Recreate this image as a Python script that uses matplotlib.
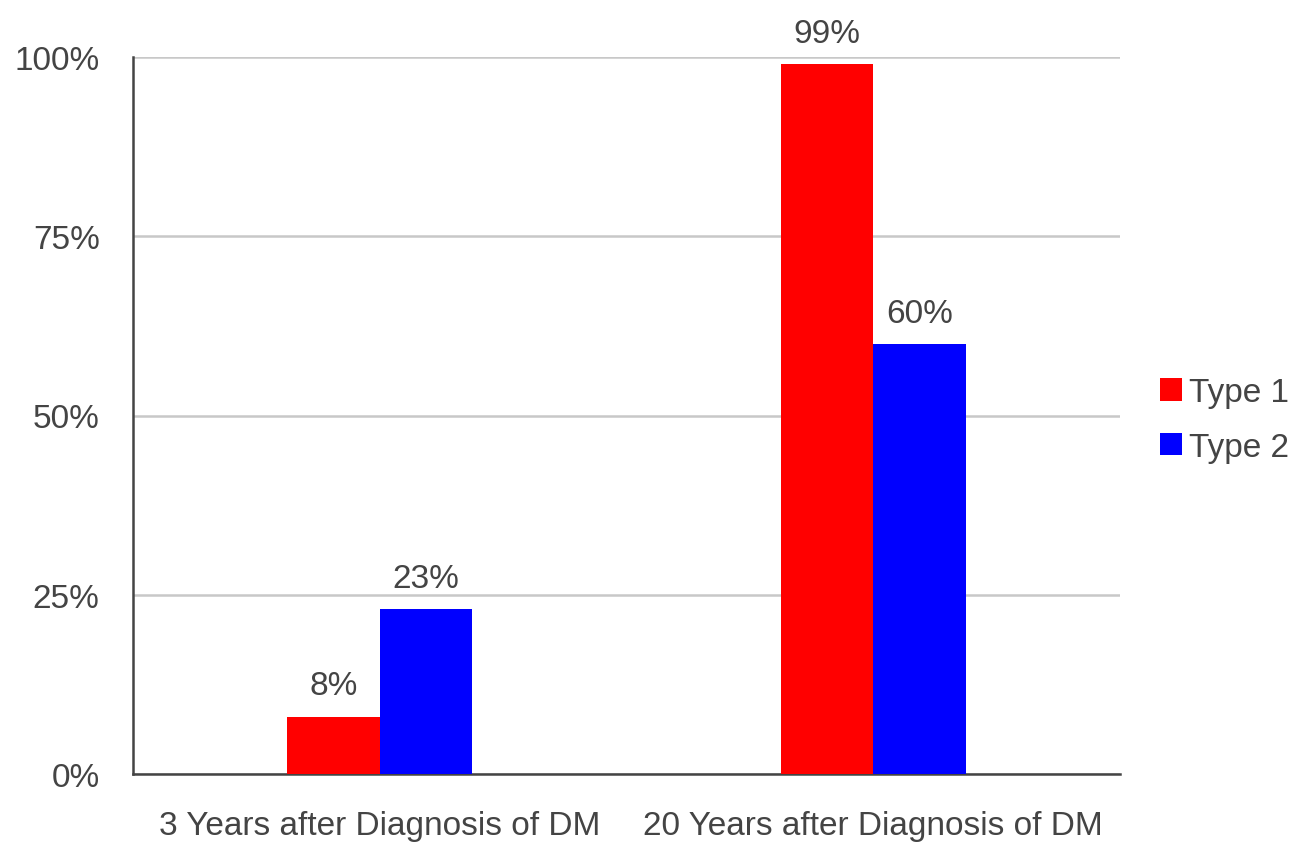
import numpy as np
import matplotlib.pyplot as plt

plt.rcParams['font.family'] = ['Liberation Sans', 'DejaVu Sans']

categories = ["3 Years after Diagnosis of DM", "20 Years after Diagnosis of DM"]
series = ["Type 1", "Type 2"]
type1 = [8, 99]
type2 = [23, 60]
colors = ["#ff0000", "#0000ff"]
yticks = [0, 25, 50, 75, 100]

text_col = "#444444"
fs = 24

fig = plt.figure(figsize=(12.99, 8.53), dpi=100)
ax = fig.add_axes([133 / 1299, 1 - 775 / 853, 987 / 1299, 717 / 853])

x = np.arange(len(categories))
w = 0.1875
for i, (vals, name, c) in enumerate(zip([type1, type2], series, colors)):
    pos = x + (i - 0.5) * w
    bars = ax.bar(pos, vals, width=w, color=c, label=name, zorder=3)
    for b, v in zip(bars, vals):
        ax.annotate(f"{v}%", (b.get_x() + b.get_width() / 2, v),
                    xytext=(0, 11), textcoords="offset points",
                    ha="center", va="bottom", fontsize=fs, color=text_col)

ax.set_xlim(-0.5, 1.5)
ax.set_ylim(0, 100)
ax.set_yticks(yticks)
ax.set_yticklabels([f"{t}%" for t in yticks])
ax.set_xticks(x)
ax.set_xticklabels(categories)
ax.tick_params(axis="both", length=0, labelsize=fs, colors=text_col)
ax.tick_params(axis="y", pad=24)
ax.tick_params(axis="x", pad=26)

ax.yaxis.grid(True, color="#c8c8c8", linewidth=1.8, zorder=0)
ax.set_axisbelow(True)
for s in ["top", "right"]:
    ax.spines[s].set_visible(False)
for s in ["left", "bottom"]:
    ax.spines[s].set_color("#444444")
    ax.spines[s].set_linewidth(1.8)

leg = fig.legend(loc="center left", bbox_to_anchor=(1130 / 1299, 1 - 421 / 853),
                 frameon=False, fontsize=fs, handlelength=0.67, handleheight=0.67,
                 handletextpad=0.2, labelspacing=0.7, labelcolor=text_col)

fig.savefig("out.png", dpi=100)
